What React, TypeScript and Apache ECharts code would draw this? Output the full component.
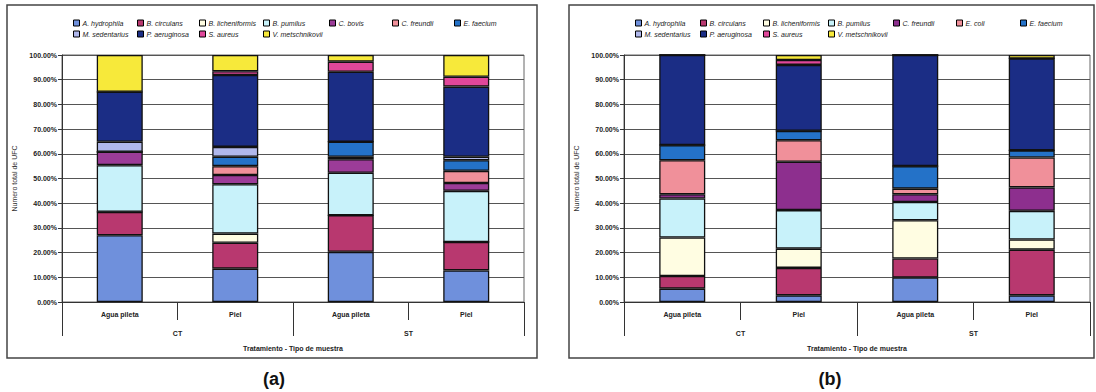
import React, { useEffect, useRef } from "react";
import * as echarts from "echarts";

// ---------- shared categories ----------
const categories = ["Agua pileta", "Piel", "Agua pileta", "Piel"];
const groups = ["CT", "ST"];

// ---------- panel (a) ----------
const speciesA = [
  "A. hydrophila", "B. circulans", "B. licheniformis", "B. pumilus", "C. bovis", "C. freundii", "E. faecium",
  "M. sedentarius", "P. aeruginosa", "S. aureus", "V. metschnikovii",
];
const a_hydrophila = [27, 13.5, 20.3, 12.8];
const a_circulans = [9.5, 10.5, 14.8, 11.5];
const a_licheniformis = [0, 3.7, 0, 0];
const a_pumilus = [18.9, 20, 17.2, 20.7];
const a_bovis = [5.4, 3.7, 5.5, 3.2];
const a_freundii = [0, 3.6, 1.0, 4.9];
const a_faecium = [0, 3.8, 6.1, 4.3];
const a_sedentarius = [4.1, 4, 0, 1.4];
const a_aeruginosa = [20.2, 29.1, 28.3, 28.4];
const a_aureus = [0, 1.5, 4.1, 4.0];
const a_metschnikovii = [14.9, 6.6, 2.7, 8.8];
const valuesA = [
  a_hydrophila, a_circulans, a_licheniformis, a_pumilus, a_bovis, a_freundii, a_faecium,
  a_sedentarius, a_aeruginosa, a_aureus, a_metschnikovii,
];
const colorsA = [
  "#6F90DC", "#B8386F", "#FFFDE2", "#C8F2FA", "#9C3C98", "#F0909A", "#2472C8",
  "#B0B8EC", "#1B2D85", "#E0479A", "#F7E93A",
];

// ---------- panel (b) ----------
const speciesB = [
  "A. hydrophila", "B. circulans", "B. licheniformis", "B. pumilus", "C. freundii", "E. coli", "E. faecium",
  "M. sedentarius", "P. aeruginosa", "S. aureus", "V. metschnikovii",
];
const b_hydrophila = [5.4, 2.7, 9.9, 2.7];
const b_circulans = [5.1, 11.1, 7.7, 18.5];
const b_licheniformis = [15.6, 7.8, 15.5, 4.1];
const b_pumilus = [15.8, 15.6, 7.4, 11.6];
const b_freundii = [1.7, 19.6, 3.1, 9.5];
const b_coli = [13.8, 8.7, 2.3, 12.1];
const b_faecium = [6.1, 3.8, 9.1, 2.9];
const b_sedentarius = [0, 0, 0, 0];
const b_aeruginosa = [36.5, 26.7, 45, 37.2];
const b_aureus = [0, 2, 0, 0];
const b_metschnikovii = [0, 2, 0, 1.4];
const valuesB = [
  b_hydrophila, b_circulans, b_licheniformis, b_pumilus, b_freundii, b_coli, b_faecium,
  b_sedentarius, b_aeruginosa, b_aureus, b_metschnikovii,
];
const colorsB = [
  "#6F90DC", "#B8386F", "#FFFDE2", "#C8F2FA", "#8D2F8E", "#F0909A", "#2472C8",
  "#B0B8EC", "#1B2D85", "#E0479A", "#F7E93A",
];

const FONT = "Liberation Sans, Arial, sans-serif";

type PanelCfg = {
  species: string[];
  values: number[][];
  colors: string[];
  legendCols: number[];
  gridLeft: number;
  gridWidth: number;
  frame: [number, number, number, number];
  label: string;
  labelX: number;
  nameGap: number;
};

function buildOption(cfg: PanelCfg) {
  const legends = cfg.legendCols.map((x, i) => {
    const data = [cfg.species[i]];
    if (cfg.species[i + 7]) data.push(cfg.species[i + 7]);
    return {
      left: x,
      top: 19,
      orient: "vertical",
      data,
      icon: "rect",
      itemWidth: 6,
      itemHeight: 6,
      itemGap: 3,
      padding: 0,
      selectedMode: false,
      itemStyle: { borderColor: "#000", borderWidth: 1 },
      textStyle: { fontSize: 7, fontStyle: "italic", color: "#222", fontFamily: FONT, lineHeight: 8, padding: [0, 0, 0, -2] },
    };
  });
  return {
    animation: false,
    legend: legends,
    grid: {
      left: cfg.gridLeft,
      top: 55,
      width: cfg.gridWidth,
      height: 247,
      show: true,
      borderColor: "#666",
      borderWidth: 1,
      containLabel: false,
    },
    xAxis: [
      {
        type: "category",
        data: categories,
        axisLine: { lineStyle: { color: "#333", width: 1 } },
        axisTick: { show: true, length: 18, lineStyle: { color: "#333" } },
        axisLabel: { fontSize: 7, fontWeight: "bold", color: "#222", margin: 9, fontFamily: FONT },
      },
      {
        type: "category",
        data: groups,
        position: "bottom",
        axisLine: { show: false },
        axisTick: { show: true, length: 34, lineStyle: { color: "#333" } },
        axisLabel: { fontSize: 7, fontWeight: "bold", color: "#222", margin: 28, fontFamily: FONT },
        name: "Tratamiento - Tipo de muestra",
        nameLocation: "middle",
        nameGap: 43,
        nameTextStyle: { fontSize: 7, fontWeight: "bold", color: "#222", fontFamily: FONT },
      },
    ],
    yAxis: {
      type: "value",
      min: 0,
      max: 100,
      interval: 10,
      axisLine: { show: true, lineStyle: { color: "#333" } },
      axisTick: { show: true, length: 4, lineStyle: { color: "#333" } },
      axisLabel: {
        formatter: (v: number) => v.toFixed(2) + "%",
        fontSize: 7,
        fontWeight: "bold",
        color: "#222",
        margin: 5,
        fontFamily: FONT,
      },
      splitLine: { lineStyle: { color: "#555", width: 1 } },
      name: "Numero total de UFC",
      nameLocation: "middle",
      nameGap: cfg.nameGap,
      nameTextStyle: { fontSize: 7, color: "#333", fontFamily: FONT },
    },
    series: cfg.species.map((name, i) => ({
      name,
      type: "bar",
      stack: "total",
      xAxisIndex: 0,
      barWidth: 46,
      data: cfg.values[i],
      itemStyle: { color: cfg.colors[i], borderColor: "#111", borderWidth: 1.3 },
    })),
    graphic: [
      {
        type: "rect",
        shape: {
          x: cfg.frame[0],
          y: cfg.frame[1],
          width: cfg.frame[2] - cfg.frame[0],
          height: cfg.frame[3] - cfg.frame[1],
        },
        style: { fill: "none", stroke: "#444", lineWidth: 1.5 },
        silent: true,
        z: -1,
      },
      {
        type: "text",
        x: cfg.labelX,
        y: 379,
        style: {
          text: cfg.label,
          font: "bold 18px " + FONT,
          fill: "#111",
          textAlign: "center",
          textVerticalAlign: "middle",
        },
      },
    ],
  };
}

const cfgA: PanelCfg = {
  species: speciesA,
  values: valuesA,
  colors: colorsA,
  legendCols: [73, 137, 199, 263, 329, 392, 454],
  gridLeft: 62,
  gridWidth: 462,
  frame: [7, 5, 537, 358],
  label: "(a)",
  labelX: 274,
  nameGap: 42,
};

const cfgB: PanelCfg = {
  species: speciesB,
  values: valuesB,
  colors: colorsB,
  legendCols: [87, 152, 215, 280, 345, 408, 472],
  gridLeft: 76,
  gridWidth: 466,
  frame: [21, 5, 546, 358],
  label: "(b)",
  labelX: 282,
  nameGap: 41,
};

function Panel({ cfg, left }: { cfg: PanelCfg; left: number }) {
  const ref = useRef<HTMLDivElement>(null);
  useEffect(() => {
    if (!ref.current) return;
    const chart = echarts.init(ref.current, undefined, { renderer: "svg" });
    chart.setOption(buildOption(cfg) as any);
    return () => chart.dispose();
  }, [cfg]);
  return (
    <div
      ref={ref}
      style={{ position: "absolute", left, top: 0, width: 548, height: 392 }}
    />
  );
}

export default function App() {
  return (
    <div style={{ position: "absolute", left: 0, top: 0, width: 1096, height: 392, background: "#fff" }}>
      <Panel cfg={cfgA} left={0} />
      <Panel cfg={cfgB} left={548} />
    </div>
  );
}
